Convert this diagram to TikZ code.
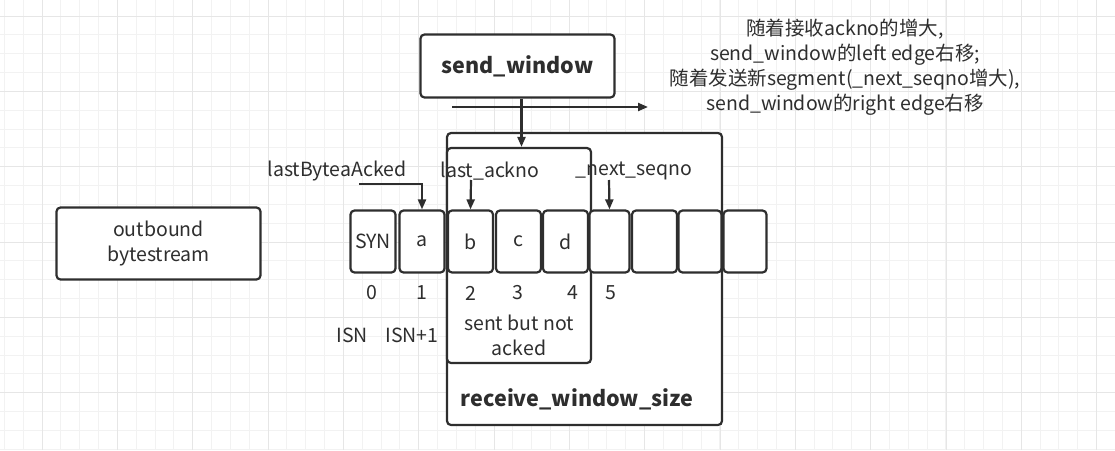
\documentclass[tikz,border=0pt]{standalone}
\usepackage{fontspec}
\setmainfont{Noto Sans CJK SC}
\usetikzlibrary{arrows.meta}
\definecolor{ink}{HTML}{2E2E2E}
\definecolor{gridfine}{HTML}{F2F2F2}
\definecolor{gridbold}{HTML}{E6E6E6}

\begin{document}
\begin{tikzpicture}[x=1pt,y=-1pt,
    box/.style={draw=ink,fill=white,line width=2.2pt,rounded corners=4pt,text=ink,align=center,inner sep=0pt},
    cell/.style={box,minimum width=45pt,minimum height=62pt,font=\fontsize{19.5}{20}\selectfont},
    lbl/.style={text=ink,align=center,inner sep=0pt,font=\fontsize{19.5}{20}\selectfont},
    arr/.style={draw=ink,line width=2.2pt,-{Triangle[length=10pt,width=8pt]}}]
    \useasboundingbox (0,0) rectangle (1115,450);
    % background grid
    \foreach \i in {-2,...,57}
        \draw[gridfine,line width=1pt] (42+\i*18.833,0) -- (42+\i*18.833,450);
    \foreach \i in {0,...,23}
        \draw[gridfine,line width=1pt] (0,16+\i*18.833) -- (1115,16+\i*18.833);
    \foreach \i in {0,...,14}
        \draw[gridbold,line width=1pt] (42+\i*75.333,0) -- (42+\i*75.333,450);
    \foreach \i in {0,...,5}
        \draw[gridbold,line width=1pt] (0,16+\i*75.333) -- (1115,16+\i*75.333);

    % outbound stream
    \node[box,minimum width=204pt,minimum height=72pt,font=\fontsize{19.5}{25}\selectfont] (outbound) at (158.5,243.5) {outbound\\bytestream};

    % windows
    \node[box,minimum width=275pt,minimum height=292pt] (recvwin) at (584.5,279) {};
    \node[lbl,font=\fontsize{21.5}{20}\selectfont\bfseries] (recvlabel) at (577,399) {receive\_window\_size};
    \node[box,minimum width=144pt,minimum height=215pt] (sent) at (519,255.5) {};
    \node[lbl,font=\fontsize{19.5}{25}\selectfont] (sentlabel) at (519,335.5) {sent but not\\acked};
    \node[box,minimum width=194pt,minimum height=63pt,font=\fontsize{21.5}{20}\selectfont\bfseries] (sendwin) at (517.5,66) {send\_window};

    % byte cells
    \node[cell] (syn) at (373,241.5) {SYN};
    \node[cell] (a) at (422,241.5) {a};
    \node[cell] (b) at (470.5,241.5) {b};
    \node[cell] (c) at (518.5,241.5) {c};
    \node[cell] (d) at (565.5,241.5) {d};
    \node[cell,minimum width=40pt] (e1) at (609.5,241.5) {};
    \node[cell] (e2) at (654.5,241.5) {};
    \node[cell,minimum width=43pt] (e3) at (700,241.5) {};
    \node[cell,minimum width=43pt] (e4) at (745,241.5) {};

    % sequence numbers
    \node[lbl] (n0) at (372,293) {0};
    \node[lbl] (n1) at (422,293) {1};
    \node[lbl] (n2) at (471,293) {2};
    \node[lbl] (n3) at (518,293) {3};
    \node[lbl] (n4) at (573,293) {4};
    \node[lbl] (n5) at (611,293) {5};
    \node[lbl] (isn) at (352,335) {ISN};
    \node[lbl] (isn1) at (412,335) {ISN+1};

    % pointers
    \node[lbl] (lastbyte) at (337,171) {lastByteaAcked};
    \node[lbl] (lastack) at (490,171) {last\_ackno};
    \node[lbl] (nextseq) at (634,171) {\_next\_seqno};
    \coordinate (lastbytestart) at (359,184);
    \coordinate (lastackstart) at (471,180);
    \coordinate (nextseqstart) at (609,180);
    \draw[arr] (lastbytestart) -| (a.north);
    \draw[arr] (lastackstart) -- (b.north);
    \draw[arr] (nextseqstart) -- (e1.north);

    % window movement
    \draw[arr] ([xshift=4pt]sendwin.south) -- ([xshift=4pt]sendwin.south |- sent.north);
    \coordinate (movestart) at (452,107);
    \coordinate (moveend) at (648,107);
    \draw[arr] (movestart) -- (moveend);
    \node[lbl,font=\fontsize{19.5}{25}\selectfont] (note) at (845,67) {随着接收ackno的增大,\\send\_window的left edge右移;\\随着发送新segment(\_next\_seqno增大),\\send\_window的right edge右移};
\end{tikzpicture}
\end{document}
